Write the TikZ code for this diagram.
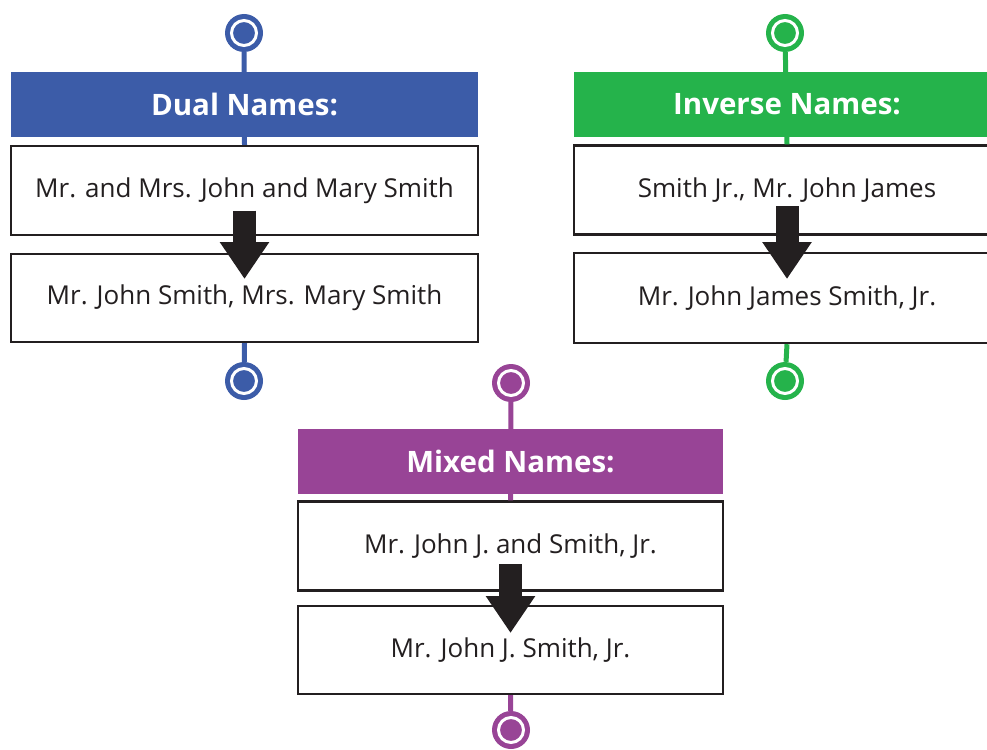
\documentclass[tikz,border=0pt]{standalone}
\usepackage{fontspec}
\setmainfont{Open Sans}
\usetikzlibrary{arrows.meta}
\definecolor{cblue}{HTML}{3C5CA8}
\definecolor{cgreen}{HTML}{25B34B}
\definecolor{cpurple}{HTML}{984496}
\definecolor{cdark}{HTML}{231F20}
\tikzset{
  ring/.style={circle, fill=#1, minimum size=38pt, inner sep=0pt,
    path picture={\draw[white, line width=3pt] (path picture bounding box.center) circle[radius=12.5pt];}},
  header/.style={fill=#1, text=white, font=\bfseries\fontsize{29.5}{32}\selectfont, inner sep=0pt, minimum height=65pt},
  namebox/.style={draw=cdark, line width=2.4pt, fill=white, font=\fontsize{26}{29}\selectfont, text=cdark, inner sep=0pt, minimum height=89pt},
  stem/.style={draw=#1, line width=5pt},
  blockarrow/.style={draw=cdark, line width=23pt, -{Triangle[length=37pt,width=47pt]}},
}
\begin{document}
\begin{tikzpicture}[x=1pt,y=-1pt]
\useasboundingbox (0,0) rectangle (987,749);
\begin{scope}
\clip (0,0) rectangle (987,749);
% Dual names
\node[ring=cblue] (d0) at (244,33) {};
\node[namebox, minimum width=467pt] (d1) at (244.5,190.5) {Mr. and Mrs. John and Mary Smith};
\node[namebox, minimum width=467pt, minimum height=88pt] (d2) at (244.5,298) {Mr. John Smith, Mrs. Mary Smith};
\node[ring=cblue] (d3) at (244,381) {};
\draw[stem=cblue] (d0) -- (d1.north);
\draw[stem=cblue] (d2.south) -- (d3);
\node[header=cblue, minimum width=467pt] (dh) at (244.5,104.5) {Dual Names:};
\draw[blockarrow] ([yshift=-20pt]d1.center) -- ([yshift=19pt]d2.center);
% Inverse names
\node[ring=cgreen] (i0) at (785,33) {};
\node[namebox, minimum width=426pt] (i1) at (787,190) {Smith Jr., Mr. John James};
\node[namebox, minimum width=426pt, minimum height=90pt] (i2) at (787,298) {Mr. John James Smith, Jr.};
\node[ring=cgreen] (i3) at (785,381) {};
\draw[stem=cgreen] (i0) -- (i1.north);
\draw[stem=cgreen] (i2.south) -- (i3);
\node[header=cgreen, minimum width=426pt] (ih) at (787,104.5) {Inverse Names:};
\draw[blockarrow] ([yshift=-16pt]i1.center) -- ([yshift=19pt]i2.center);
% Mixed names
\node[ring=cpurple] (m0) at (511,383) {};
\node[namebox, minimum width=425pt] (m1) at (510.5,546) {Mr. John J. and Smith, Jr.};
\node[namebox, minimum width=425pt, minimum height=88pt] (m2) at (510.5,650) {Mr. John J. Smith, Jr.};
\node[ring=cpurple] (m3) at (511,730) {};
\draw[stem=cpurple] (m0) -- (m1.north);
\draw[stem=cpurple] (m2.south) -- (m3);
\node[header=cpurple, minimum width=425pt] (mh) at (510.5,461) {Mixed Names:};
\draw[blockarrow] ([yshift=-18pt]m1.center) -- ([yshift=17pt]m2.center);
\end{scope}
\end{tikzpicture}
\end{document}
